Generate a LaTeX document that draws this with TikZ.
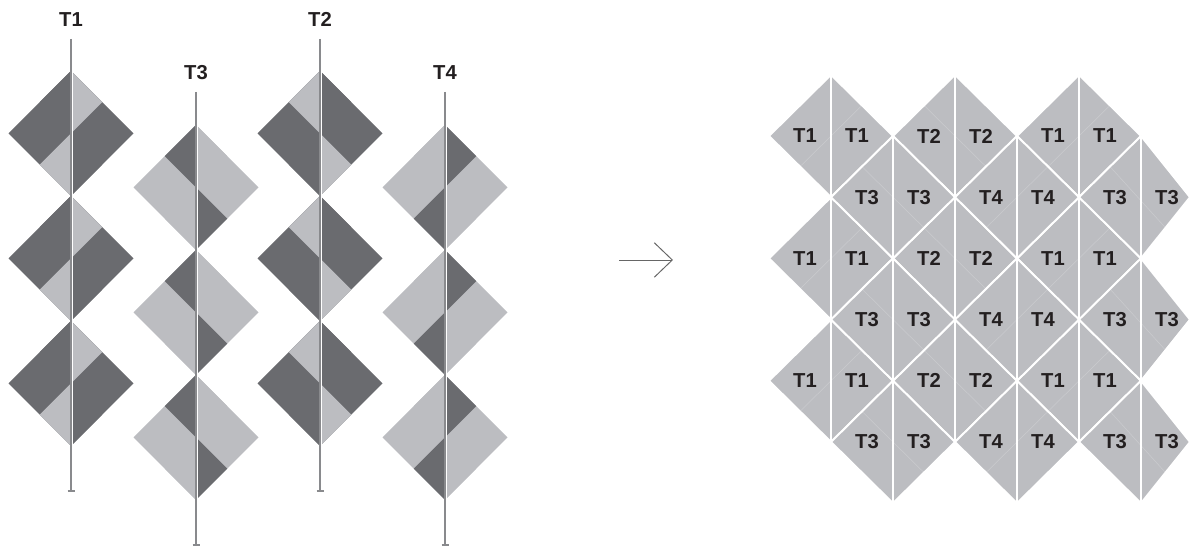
\documentclass[tikz,border=0pt]{standalone}
\usepackage{fontspec}
\setsansfont{Liberation Sans}
\usetikzlibrary{arrows.meta}
\definecolor{tiledark}{HTML}{6A6B6F}
\definecolor{tilelight}{HTML}{BCBDC1}
\definecolor{stemgray}{HTML}{898A8D}
\definecolor{seamgray}{HTML}{CACBCE}
\definecolor{inkblack}{HTML}{231F20}
\tikzset{
  lbl/.style={font=\sffamily\bfseries\fontsize{11.5}{12}\selectfont,text=inkblack,inner sep=0pt},
  stem/.style={draw=stemgray,line width=0.85pt},
  stemlight/.style={draw=white,line width=0.9pt},
  seam/.style={draw=seamgray,line width=0.3pt},
  gridline/.style={draw=white,line width=1.1pt,line join=miter},
  arrowline/.style={draw=black!60,line width=0.55pt,-{Straight Barb[length=3.6mm,width=6.9mm]}}
}
% stacked tile: centre x, centre y, colours top-left, top-right, sides, bottom-left, bottom-right
\newcommand{\tblock}[7]{%
  \begin{scope}[shift={(#1,#2)}]
    \fill[#5] (0,-62.5)--(62.5,0)--(0,62.5)--(-62.5,0)--cycle;
    \fill[#3] (0,-62.5)--(-31.25,-31.25)--(0,0)--cycle;
    \fill[#4] (0,-62.5)--(31.25,-31.25)--(0,0)--cycle;
    \fill[#6] (0,62.5)--(-31.25,31.25)--(0,0)--cycle;
    \fill[#7] (0,62.5)--(31.25,31.25)--(0,0)--cycle;
  \end{scope}}
% laid tile: centre x, centre y, label, seam direction, right half width, name
\newcommand{\gtile}[6]{%
  \begin{scope}[shift={(#1,#2)}]
    \fill[tilelight] (0,-61.2)--(#5,0)--(0,61.2)--(-62,0)--cycle;
    \draw[seam] (-31,{30.6*(#4)})--({#5/2},{-30.6*(#4)});
    \draw[gridline] (0,-61.2)--(#5,0)--(0,61.2)--(-62,0)--cycle (0,-61.2)--(0,61.2);
    \node[lbl] (#6l) at (-26,0) {#3};
    \node[lbl] (#6r) at (26,0) {#3};
  \end{scope}}

\begin{document}
\begin{tikzpicture}[x=0.02cm,y=-0.02cm]
\useasboundingbox (0,0) rectangle (1191,546);

% columns before laying
\foreach \cx/\cy/\ta/\tb/\sd/\bl/\br in {
  71/133.5/tiledark/tilelight/tiledark/tilelight/tiledark,
  320/133.5/tilelight/tiledark/tiledark/tiledark/tilelight,
  196/187.5/tiledark/tilelight/tilelight/tilelight/tiledark,
  445/187.5/tilelight/tiledark/tilelight/tiledark/tilelight}
  {\foreach \k in {0,1,2}
    {\tblock{\cx}{\cy+125*\k}{\ta}{\tb}{\sd}{\bl}{\br}}}

\foreach \nm/\cx/\ty/\by in {T1/71/39/491,T2/320/39/491,T3/196/92/545,T4/445/92/545}{
  \coordinate (\nm top) at (\cx,\ty);
  \coordinate (\nm bot) at (\cx,\by);
  \draw[stemlight] (\cx+1.6,\ty)--(\cx+1.6,\by);
  \draw[stem] (\nm top)--(\nm bot);
  \draw[stem] ([xshift=-0.07cm]\nm bot)--([xshift=0.07cm]\nm bot);
  \node[lbl] (lbl\nm) at (\cx,\ty-19.5) {\nm};
}

% arrow
\coordinate (arrowtail) at (619,260);
\coordinate (arrowtip) at (673,260);
\draw[arrowline] (arrowtail)--(arrowtip);

% laid pattern
\foreach \r in {0,2,4}
  \foreach \k/\nm/\sd in {0/T1/1,2/T2/-1,4/T1/1}
    {\gtile{831+62*\k}{136+61.2*\r}{\nm}{\sd}{62}{g\r\k}}
\foreach \r in {1,3,5}
  \foreach \k/\nm/\sd/\w in {1/T3/-1/62,3/T4/1/62,5/T3/-1/49}
    {\gtile{831+62*\k}{136+61.2*\r}{\nm}{\sd}{\w}{g\r\k}}
\end{tikzpicture}
\end{document}
